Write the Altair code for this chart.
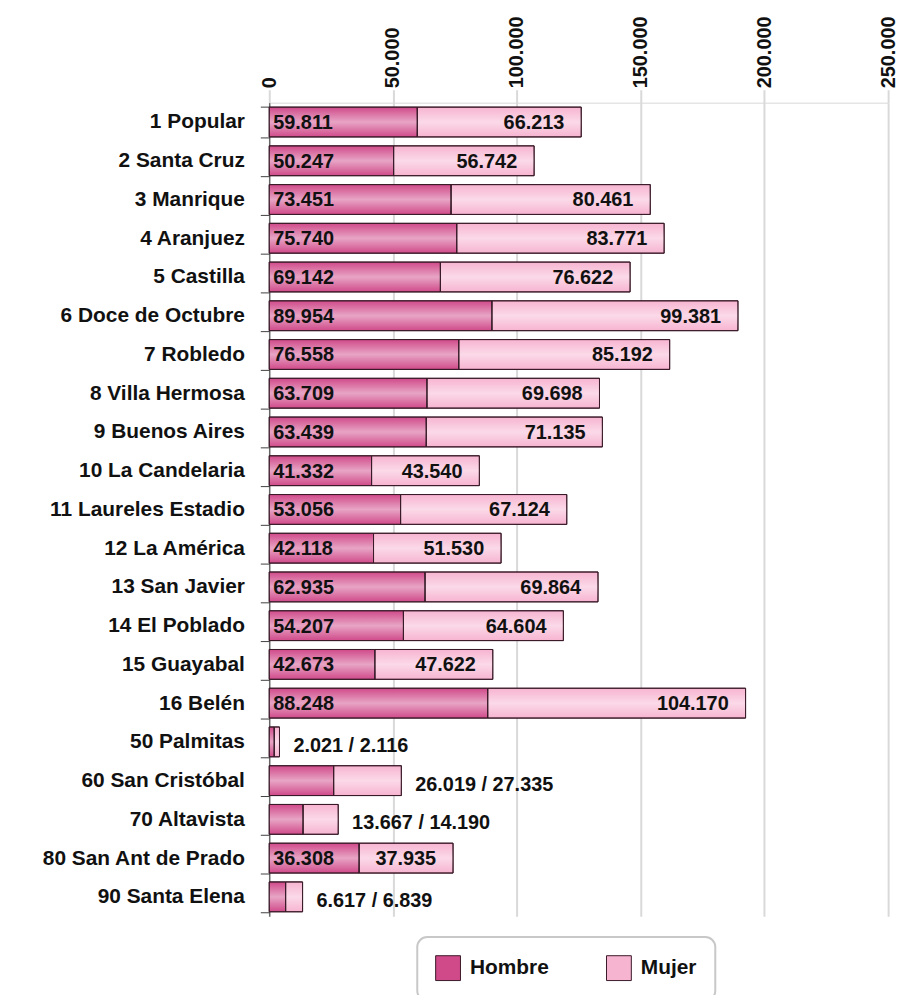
import altair as alt
import pandas as pd

comunas = ["1 Popular", "2 Santa Cruz", "3 Manrique", "4 Aranjuez", "5 Castilla",
           "6 Doce de Octubre", "7 Robledo", "8 Villa Hermosa", "9 Buenos Aires",
           "10 La Candelaria", "11 Laureles Estadio", "12 La América", "13 San Javier",
           "14 El Poblado", "15 Guayabal", "16 Belén", "50 Palmitas", "60 San Cristóbal",
           "70 Altavista", "80 San Ant de Prado", "90 Santa Elena"]
hombre = [59811, 50247, 73451, 75740, 69142, 89954, 76558, 63709, 63439, 41332, 53056,
          42118, 62935, 54207, 42673, 88248, 2021, 26019, 13667, 36308, 6617]
mujer = [66213, 56742, 80461, 83771, 76622, 99381, 85192, 69698, 71135, 43540, 67124,
         51530, 69864, 64604, 47622, 104170, 2116, 27335, 14190, 37935, 6839]
series = ["Hombre", "Mujer"]
ticks_x = [0, 50000, 100000, 150000, 200000, 250000]


def fmt(v):
    return f"{v:,}".replace(",", ".")


df = pd.DataFrame({"comuna": comunas, "hombre": hombre, "mujer": mujer})
df["total"] = df["hombre"] + df["mujer"]
df["cero"] = 0
df["lab_h"] = df["hombre"].map(fmt)
df["lab_m"] = df["mujer"].map(fmt)
df["lab_out"] = df["lab_h"] + "  /  " + df["lab_m"]
df["dentro"] = df["total"] >= 60000

rows = []
for c, h, m in zip(comunas, hombre, mujer):
    rows.append({"comuna": c, "sexo": series[0], "inicio": 0, "fin": h})
    rows.append({"comuna": c, "sexo": series[1], "inicio": h, "fin": h + m})
long = pd.DataFrame(rows)

FONT = "Liberation Sans"

x_axis = alt.Axis(orient="top", values=ticks_x, labelAngle=-90, labelAlign="left",
                  labelBaseline="middle", labelFont=FONT, labelFontSize=20,
                  labelFontWeight="bold", labelColor="#111111", labelPadding=2,
                  labelFlush=False, labelOverlap=False,
                  labelExpr="replace(format(datum.value, ','), ',', '.')",
                  grid=True, gridColor="#d9d9d9", gridWidth=2,
                  tickColor="#d9d9d9", tickWidth=2, tickSize=13,
                  domainColor="#d9d9d9", domainWidth=1, title=None)
x_scale = alt.Scale(domain=[0, 250000], nice=False, zero=True)

y_enc = alt.Y("comuna:N", sort=comunas, title=None,
              scale=alt.Scale(paddingInner=0.23),
              axis=alt.Axis(labelFont=FONT, labelFontSize=21, labelFontWeight="bold",
                            labelColor="#111111", labelPadding=16, tickSize=9,
                            tickBand="extent", tickColor="#404040",
                            domainColor="#404040", domainWidth=1, labelLimit=400))

bars = alt.Chart(long).mark_bar(stroke="#3a1a28", strokeWidth=1).encode(
    x=alt.X("inicio:Q", scale=x_scale, axis=x_axis, title=None),
    x2="fin:Q",
    y=y_enc,
    color=alt.Color("sexo:N",
                    scale=alt.Scale(domain=series, range=["#d04a8a", "#f7b4d1"]),
                    legend=alt.Legend(orient="none", legendX=149, legendY=840,
                                      direction="horizontal", title=None,
                                      symbolType="square", symbolSize=625,
                                      symbolStrokeColor="#3a1a28", symbolStrokeWidth=1,
                                      symbolOpacity=1, labelFont=FONT, labelFontSize=21,
                                      labelFontWeight="bold", labelColor="#111111",
                                      labelOffset=9, columnPadding=55, padding=18,
                                      gridAlign="all",
                                      strokeColor="#c8c8c8", cornerRadius=10,
                                      fillColor="white")),
)

sheen = alt.Chart(df).mark_bar(
    color=alt.Gradient(gradient="linear", x1=0, y1=0, x2=0, y2=1,
                       stops=[alt.GradientStop(offset=0, color="rgba(255,255,255,0)"),
                              alt.GradientStop(offset=0.5, color="rgba(255,255,255,0.5)"),
                              alt.GradientStop(offset=1, color="rgba(255,255,255,0)")])
).encode(
    x=alt.X("cero:Q", scale=x_scale, axis=x_axis, title=None),
    x2="total:Q",
    y=y_enc,
)

outline = alt.Chart(long).mark_bar(fillOpacity=0, stroke="#3a1a28", strokeWidth=1).encode(
    x=alt.X("inicio:Q", scale=x_scale, axis=x_axis, title=None),
    x2="fin:Q",
    y=y_enc,
)

text_style = dict(font=FONT, fontSize=20, fontWeight="bold", color="#111111",
                  baseline="middle")

lab_h = alt.Chart(df).transform_filter("datum.dentro").mark_text(
    align="left", dx=4, dy=1, **text_style).encode(
    x=alt.X("cero:Q", scale=x_scale, axis=x_axis, title=None),
    y=y_enc, text="lab_h:N")

lab_m = alt.Chart(df).transform_filter("datum.dentro").mark_text(
    align="right", dx=-17, dy=1, **text_style).encode(
    x=alt.X("total:Q", scale=x_scale, axis=x_axis, title=None),
    y=y_enc, text="lab_m:N")

lab_out = alt.Chart(df).transform_filter("!datum.dentro").mark_text(
    align="left", dx=14, dy=4, **text_style).encode(
    x=alt.X("total:Q", scale=x_scale, axis=x_axis, title=None),
    y=y_enc, text="lab_out:N")

chart = alt.layer(bars, sheen, outline, lab_h, lab_m, lab_out).properties(
    width=623, height=819,
    padding={"left": 263, "top": 92, "right": 18, "bottom": 76},
    autosize=alt.AutoSizeParams(type="none"),
).configure_view(stroke=None).configure_legend(strokeWidth=2)

chart.save("out.html", embed_options={"renderer": "svg", "actions": False})
